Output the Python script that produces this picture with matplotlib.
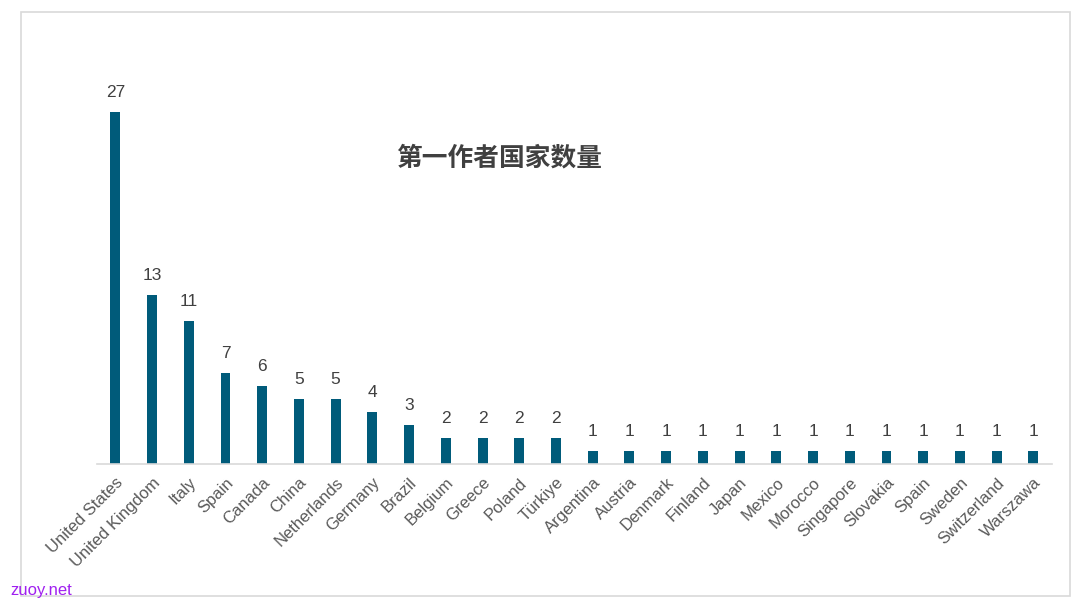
import matplotlib.pyplot as plt
from matplotlib.patches import Rectangle

countries = ['United States', 'United Kingdom', 'Italy', 'Spain', 'Canada', 'China',
             'Netherlands', 'Germany', 'Brazil', 'Belgium', 'Greece', 'Poland', 'Türkiye',
             'Argentina', 'Austria', 'Denmark', 'Finland', 'Japan', 'Mexico', 'Morocco',
             'Singapore', 'Slovakia', 'Spain', 'Sweden', 'Switzerland', 'Warszawa']
counts = [27, 13, 11, 7, 6, 5, 5, 4, 3, 2, 2, 2, 2,
          1, 1, 1, 1, 1, 1, 1, 1, 1, 1, 1, 1, 1]
title = '第一作者国家数量'

plt.rcParams['font.family'] = ['Liberation Sans', 'Noto Sans CJK SC', 'DejaVu Sans']

bar_color = '#005B7A'
text_color = '#404040'
tick_color = '#595959'
line_color = '#D9D9D9'

fig = plt.figure(figsize=(10.8, 6.07), dpi=100)

# outer frame
fig.patches.append(Rectangle((21 / 1080, 1 - 596 / 607), (1070 - 21) / 1080, (596 - 12) / 607,
                             transform=fig.transFigure, fill=False, ec=line_color, lw=1.2))

ax = fig.add_axes([0.0898, 0.2356, 0.884, 0.644])
x = range(len(counts))
ax.bar(x, counts, width=0.27, color=bar_color)
for xi, v in zip(x, counts):
    ax.text(xi, v + 0.9, str(v), ha='center', va='bottom', fontsize=12.5, color=text_color)

ax.set_xlim(-0.5, len(counts) - 0.5)
ax.set_ylim(0, 30)
ax.set_yticks([])
for s in ['top', 'right', 'left']:
    ax.spines[s].set_visible(False)
ax.spines['bottom'].set_color(line_color)
ax.spines['bottom'].set_linewidth(1.2)
ax.set_xticks(list(x))
ax.set_xticklabels(countries, rotation=45, ha='right', rotation_mode='anchor',
                   fontsize=12, color=tick_color)
ax.tick_params(axis='x', length=0, pad=8)

fig.text(499 / 1080, 1 - 158 / 607, title, ha='center', va='center',
         fontsize=18.5, fontweight='bold', color=text_color,
         family=['Noto Sans CJK SC', 'DejaVu Sans'])

fig.text(10 / 1080, 1 - 591 / 607, 'zuoy.net', ha='left', va='center',
         fontsize=12, color='#A020F0')

fig.savefig('out.png', dpi=100)
